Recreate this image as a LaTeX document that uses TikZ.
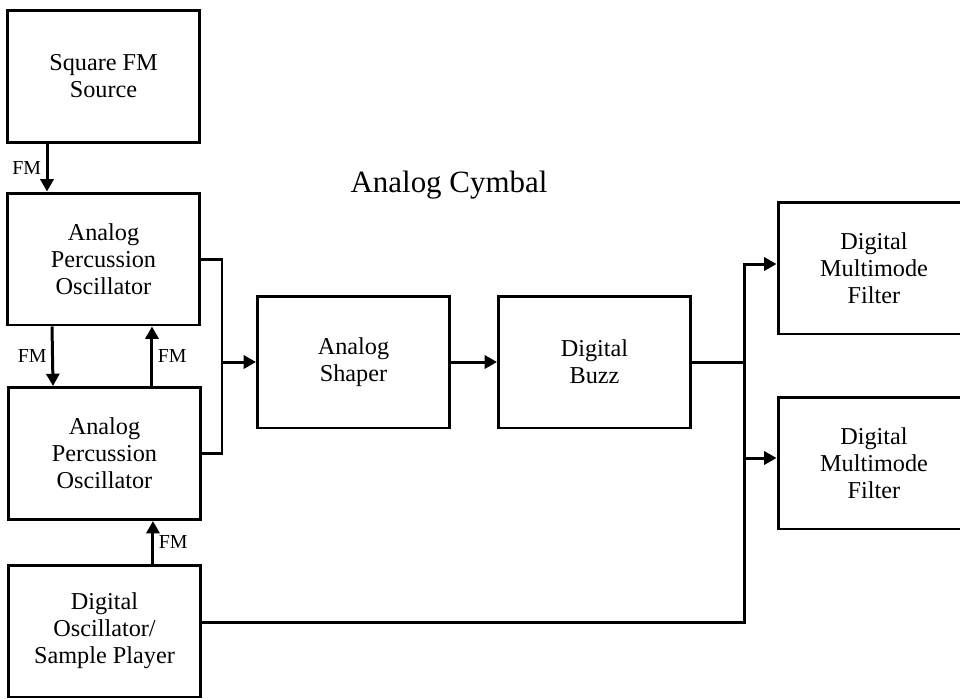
\documentclass[tikz,border=0pt]{standalone}
\usepackage{fontspec}
\setmainfont{Liberation Serif}
\usetikzlibrary{arrows.meta}

\begin{document}
\begin{tikzpicture}[x=0.02cm, y=-0.02cm, line width=1.7pt, >={Triangle[length=7pt,width=7.4pt]},
	block/.style={draw, line width=1.7pt, minimum width=3.84cm, minimum height=2.64cm, align=center, font=\fontsize{13.8}{15.4}\selectfont},
	fm label/.style={font=\fontsize{11.3}{13}\selectfont, inner sep=2.5pt}]
	\useasboundingbox (0,0) rectangle (960,698);
	\clip (0,0) rectangle (960,698);

	% Title
	\node (title) at (449,185) {\fontsize{17.6}{20}\selectfont Analog Cymbal};

	% Left column
	\node[block] (src) at (103.5,76.5) {Square FM\\Source};
	\node[block] (osca) at (103.5,259) {Analog\\Percussion\\Oscillator};
	\node[block] (oscb) at (104.5,453.5) {Analog\\Percussion\\Oscillator};
	\node[block] (dig) at (104.5,631) {Digital\\Oscillator/\\Sample Player};

	% Middle
	\node[block] (shaper) at (353.5,362) {Analog\\Shaper};
	\node[block] (buzz) at (594.5,362) {Digital\\Buzz};

	% Filters (cut by the right edge)
	\node[block] (filta) at (874,268) {Digital\\Multimode\\Filter};
	\node[block] (filtb) at (874,463) {Digital\\Multimode\\Filter};

	% Junctions
	\coordinate (jin) at (222,362);
	\coordinate (jout) at (744,362);

	% FM paths
	\draw[->] ([xshift=-1.13cm]src.south) -- ([xshift=-1.13cm]osca.north)
		node[fm label, midway, left] (fma) {FM};
	\draw[->] ([xshift=-1.03cm]osca.south) -- ([xshift=-1.03cm]oscb.north)
		node[fm label, midway, left] (fmb) {FM};
	\draw[->] ([xshift=0.95cm]oscb.north) -- ([xshift=0.97cm]osca.south)
		node[fm label, midway, right] (fmc) {FM};
	\draw[->] ([xshift=0.97cm]dig.north) -- ([xshift=0.97cm]oscb.south)
		node[fm label, midway, right] (fmd) {FM};

	% Into the shaper
	\draw (osca.east) -| (jin) |- (oscb.east);
	\draw[->] (jin) -- (shaper);
	\draw[->] (shaper) -- (buzz);

	% Out to the filters
	\draw (buzz.east) -- (jout);
	\draw ([yshift=0.18cm]dig.east) -| (jout);
	\draw[->] (jout) |- ([yshift=0.08cm]filta.west);
	\draw[->] (jout) |- ([yshift=0.1cm]filtb.west);
\end{tikzpicture}
\end{document}
